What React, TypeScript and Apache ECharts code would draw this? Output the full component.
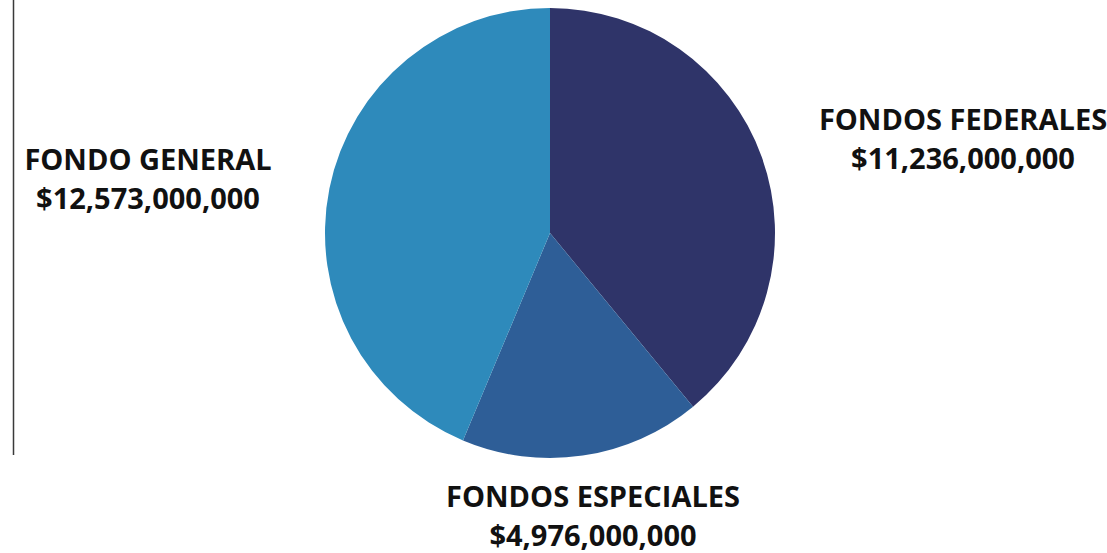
import React, { useEffect, useRef } from "react";
import * as echarts from "echarts";

const categories = ["FONDOS FEDERALES", "FONDOS ESPECIALES", "FONDO GENERAL"];
const values = [11236000000, 4976000000, 12573000000];
const colors = ["#2f3469", "#2e5e97", "#2e8abb"];
const labelPositions = [
  [963, 132],
  [593, 509],
  [148, 172],
];

const fmt = (v: number) => "$" + v.toLocaleString("en-US");

const textBase = {
  fontFamily: "Open Sans",
  fontWeight: "bold" as const,
  fontSize: 29,
  color: "#111111",
  align: "center" as const,
};

export default function App() {
  const ref = useRef<HTMLDivElement>(null);
  useEffect(() => {
    document.body.style.margin = "0";
    const chart = echarts.init(ref.current!, null, { renderer: "svg" });
    chart.setOption({
      animation: false,
      backgroundColor: "#ffffff",
      graphic: [
        {
          type: "line",
          shape: { x1: 13.5, y1: 0, x2: 13.5, y2: 455 },
          style: { stroke: "#3a3a3a", lineWidth: 1.5 },
        },
      ],
      series: [
        {
          type: "pie",
          center: [550, 233],
          radius: [0, 225],
          startAngle: 90,
          clockwise: true,
          data: categories.map((c, i) => ({
            name: c,
            value: values[i],
            itemStyle: { color: colors[i] },
          })),
          itemStyle: { borderWidth: 0 },
          label: {
            show: true,
            formatter: (p: any) => "{a|" + p.name + "}\n{b|" + fmt(p.value) + "}",
            ...textBase,
            overflow: "none",
            rich: {
              a: { ...textBase, lineHeight: 50 },
              b: { ...textBase, lineHeight: 28 },
            },
          },
          labelLine: { show: false },
          labelLayout: (p: any) => ({
            x: labelPositions[p.dataIndex][0],
            y: labelPositions[p.dataIndex][1],
            align: "center",
            verticalAlign: "middle",
            width: 400,
          }),
          emphasis: { disabled: true },
        },
      ],
    });
    return () => chart.dispose();
  }, []);
  return <div ref={ref} style={{ width: 1107, height: 553 }} />;
}
